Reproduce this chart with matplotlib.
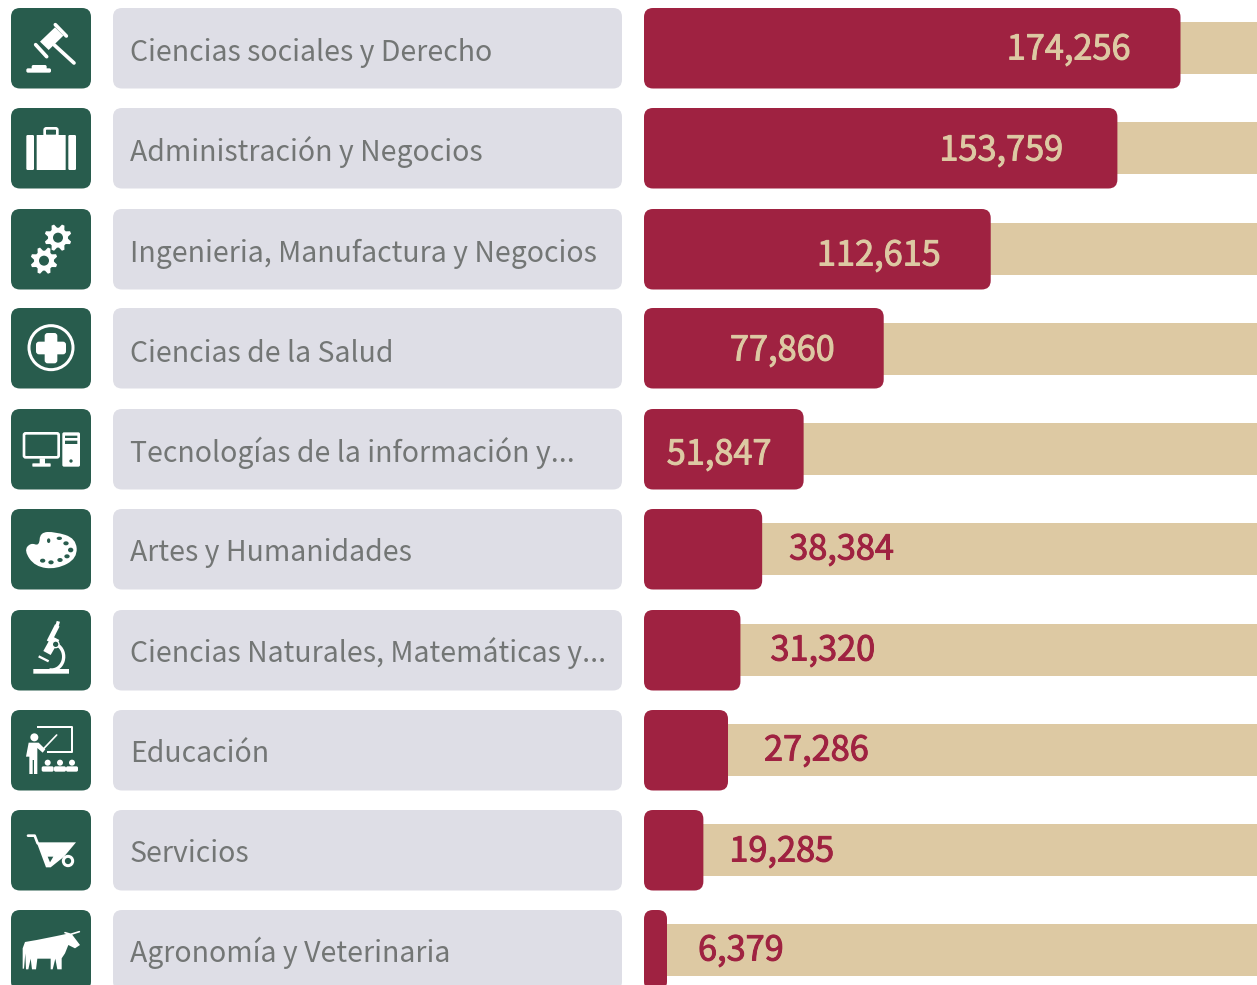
import numpy as np
import matplotlib
matplotlib.use("Agg")
import matplotlib.pyplot as plt
import matplotlib.patheffects as pe
from matplotlib.patches import FancyBboxPatch, Polygon, Circle, Ellipse, PathPatch, Arc
from matplotlib.path import Path

categories = ["Ciencias sociales y Derecho", "Administración y Negocios",
              "Ingenieria, Manufactura y Negocios", "Ciencias de la Salud",
              "Tecnologías de la información y...", "Artes y Humanidades",
              "Ciencias Naturales, Matemáticas y...", "Educación", "Servicios",
              "Agronomía y Veterinaria"]
values = [174256, 153759, 112615, 77860, 51847, 38384, 31320, 27286, 19285, 6379]

# layout (pixels)
W, H = 1257, 985
ROW_TOP = [8, 108, 209, 308, 409, 509, 610, 710, 810, 910]
TRACK_TOP = [22, 122, 223, 323, 423, 523, 624, 724, 824, 924]
LABEL_Y = [52.5, 151.5, 254, 353.5, 453, 552.5, 652.5, 753.5, 853.5, 952.5]
VALUE_Y = [50, 151, 256, 351, 455, 550, 651, 751, 852, 951]
# value label: offset from the bar end (px) and side
VALUE_OFF = [-50, -54, -50, -49, -32, 27, 30, 36, 26, 31]
ROW_H = 80.5
BAR_X0 = 644
PX_PER_UNIT = 536.5 / 174256
MIN_BAR_PX = 23

GREEN = "#285C4D"
RED = "#9F2241"
SAND = "#DDC9A3"
GREY_BOX = "#DEDEE6"
GREY_TXT = "#737675"
FONT = ["Noto Sans CJK SC", "DejaVu Sans"]

fig = plt.figure(figsize=(W / 100, H / 100), dpi=100, facecolor="white")

# ---------- left panel in pixel coordinates ----------
ax = fig.add_axes([0, 0, 1, 1])
ax.set_xlim(0, W)
ax.set_ylim(H, 0)
ax.axis("off")

def rbox(a, x0, y0, x1, y1, r, fc, z=2, **kw):
    p = FancyBboxPatch((x0, y0), x1 - x0, y1 - y0,
                       boxstyle=f"round,pad=0,rounding_size={r}",
                       fc=fc, ec=kw.pop("ec", "none"), lw=kw.pop("lw", 0), zorder=z, **kw)
    a.add_patch(p)
    return p

for i, name in enumerate(categories):
    t = ROW_TOP[i]
    rbox(ax, 11, t, 91, t + ROW_H, 9, GREEN)
    rbox(ax, 113, t, 622, t + ROW_H, 9, GREY_BOX)
    ax.text(130, LABEL_Y[i], name, family=FONT, fontsize=20.47, color=GREY_TXT,
            va="center", ha="left", zorder=3)

# ---------- icon helpers: z coordinates are 3x the pixel ones ----------
def Z(pts, y0):
    return [(x / 3, y0 + y / 3) for x, y in pts]

def poly(pts, y0, fc="white", z=4):
    ax.add_patch(Polygon(Z(pts, y0), closed=True, fc=fc, ec="none", zorder=z))

def line(pts, y0, lw, color="white", z=4, cap="round"):
    p = np.array(Z(pts, y0))
    ax.plot(p[:, 0], p[:, 1], color=color, lw=lw / 3 * 0.72, solid_capstyle=cap,
            solid_joinstyle="round", zorder=z)

def circ(x, y, r, y0, fc="white", ec="none", lw=0, z=4):
    ax.add_patch(Circle((x / 3, y0 + y / 3), r / 3, fc=fc, ec=ec, lw=lw / 3 * 0.72, zorder=z))

def rr(x0, y0_, x1, y1, y0, r=3, fc="white", z=4, ec="none", lw=0):
    ax.add_patch(FancyBboxPatch((x0 / 3, y0 + y0_ / 3), (x1 - x0) / 3, (y1 - y0_) / 3,
                 boxstyle=f"round,pad=0,rounding_size={r / 3}", fc=fc, ec=ec,
                 lw=lw / 3 * 0.72, zorder=z))

def smooth(pts, y0, fc="white", z=4):
    p = np.array(Z(pts, y0))
    mid = (p + np.roll(p, -1, axis=0)) / 2
    verts = [mid[-1]]
    codes = [Path.MOVETO]
    for k in range(len(p)):
        verts += [p[k], mid[k]]
        codes += [Path.CURVE3, Path.CURVE3]
    ax.add_patch(PathPatch(Path(verts, codes), fc=fc, ec="none", zorder=z))

def gear(cx, cy, R, r_in, hole, y0, teeth=8):
    n = teeth * 4
    pts = []
    for k in range(n):
        a = 2 * np.pi * (k - 0.5) / n + np.pi / 8
        pts.append((cx + (R if k % 4 in (0, 1) else r_in) * np.cos(a),
                    cy + (R if k % 4 in (0, 1) else r_in) * np.sin(a)))
    poly(pts, y0)
    circ(cx, cy, hole, y0, fc=GREEN, z=5)

# gavel
rr(79, 205, 153, 218, 0, r=5)
rr(95, 195, 140, 210, 0, r=5)
line([(163, 135), (222, 189)], 0, 11)
poly([(120, 125), (165, 82), (190, 107), (146, 150)], 0)
line([(107, 134), (140, 170)], 0, 11)
line([(166, 74), (199, 108)], 0, 11)

# briefcase
rr(79, 405, 102, 510, 0, r=4)
rr(110, 405, 197, 510, 0, r=1)
rr(205, 405, 228, 510, 0, r=4)
rr(134, 385, 172, 408, 0, r=5, fc="none", ec="white", lw=8)

# gears
gear(174, 713, 41, 30, 15, 0)
gear(132, 782, 41, 30, 15, 0)

# medical
circ(153, 143, 66, 300, fc=GREEN, ec="white", lw=9)
rr(134, 99, 172, 190, 300, r=9)
rr(108, 125, 198, 163, 300, r=9)

# computer
rr(72, 400, 176, 472, 300, r=5, fc="none", ec="white", lw=8)
rr(119, 475, 135, 492, 300, r=0)
rr(97, 490, 152, 500, 300, r=2)
rr(187, 397, 240, 500, 300, r=5)
rr(195, 407, 232, 414, 300, r=0, fc=GREEN, z=5)
rr(195, 422, 232, 432, 300, r=0, fc=GREEN, z=5)
circ(213, 483, 5, 300, fc=GREEN, z=5)

# palette
smooth([(120, 697), (165, 695), (228, 715), (232, 775), (170, 808), (105, 800),
        (72, 752), (92, 728), (118, 738)], 300)
for (x, y, a, b) in [(146, 722, 5, 7), (178, 715, 8, 5), (198, 730, 8, 6), (212, 750, 8, 7),
                     (201, 769, 8, 6), (180, 780, 8, 6), (153, 787, 8, 6), (128, 782, 8, 6)]:
    ax.add_patch(Ellipse((x / 3, 300 + y / 3), 2 * a / 3, 2 * b / 3, fc=GREEN, ec="none", zorder=5))

# microscope
rr(100, 207, 207, 221, 600, r=0)
line([(172, 76), (147, 125)], 600, 15, cap="butt")
poly([(155, 108), (178, 120), (152, 165), (130, 153)], 600)
line([(175, 64), (171, 78)], 600, 10, cap="butt")
line([(116, 169), (146, 184)], 600, 7, cap="butt")
ax.add_patch(Arc((155 / 3, 600 + 170 / 3), 2 * 36 / 3, 2 * 40 / 3, theta1=-65, theta2=100,
                 color="white", lw=2.4, zorder=4))
circ(167, 133, 10, 600, fc=GREEN, ec="white", lw=4, z=6)

# teacher
line([(112, 381), (215, 381), (215, 455), (142, 455)], 600, 6, cap="butt")
line([(130, 447), (170, 405)], 600, 5)
circ(103, 412, 12, 600)
poly([(78, 470), (86, 428), (116, 428), (136, 448), (128, 458), (112, 444), (112, 522),
      (102, 522), (102, 480), (98, 480), (98, 522), (88, 522), (88, 470)], 600)
for cx in (143, 180, 216):
    circ(cx, 488, 9, 600)
    rr(cx - 18, 499, cx + 18, 515, 600, r=5)

# wheelbarrow
line([(84, 707), (104, 707), (113, 730)], 600, 8)
poly([(110, 727), (228, 727), (192, 770), (152, 802), (138, 802)], 600)
poly([(143, 770), (160, 770), (150, 787)], 600, fc=GREEN, z=5)
circ(204, 783, 14, 600, fc=GREEN, ec="white", lw=9, z=6)

# bull
poly([(68, 1045), (75, 1026), (110, 1020), (170, 1008), (198, 1002), (215, 1002), (240, 1035),
      (225, 1045), (205, 1035), (195, 1060), (185, 1075), (185, 1108), (172, 1108), (166, 1076),
      (158, 1108), (152, 1108), (152, 1076), (112, 1076), (108, 1108), (96, 1108), (92, 1076),
      (85, 1108), (78, 1108), (76, 1060), (72, 1106), (68, 1106)], 600)
line([(195, 998), (212, 1003), (238, 995)], 600, 5)

# ---------- bars: a real value axis ----------
axb = fig.add_axes([BAR_X0 / W, 0, 1 - BAR_X0 / W, 1], facecolor="none")
axb.set_xlim(0, (W - BAR_X0) / PX_PER_UNIT)
axb.set_ylim(H, 0)
axb.axis("off")
track_end = axb.get_xlim()[1]
for i, v in enumerate(values):
    axb.barh(TRACK_TOP[i] + 26, track_end, height=52, left=0, color=SAND, zorder=1)
    width = max(v, MIN_BAR_PX / PX_PER_UNIT)
    r = 9 / PX_PER_UNIT
    axb.add_patch(FancyBboxPatch((0, ROW_TOP[i]), width, ROW_H,
                  boxstyle=f"round,pad=0,rounding_size={r}",
                  mutation_aspect=PX_PER_UNIT, fc=RED, ec="none", zorder=2))
    off = VALUE_OFF[i]
    inside = off < 0
    col = SAND if inside else RED
    axb.annotate(f"{v:,}", xy=(width, VALUE_Y[i]), xytext=(off * 0.72, 0),
                 textcoords="offset points", family=FONT, fontsize=24.7,
                 color=col, ha="right" if inside else "left", va="center", zorder=3,
                 path_effects=[pe.withStroke(linewidth=0.7, foreground=col)])

fig.savefig("out.png", dpi=100, facecolor="white")
